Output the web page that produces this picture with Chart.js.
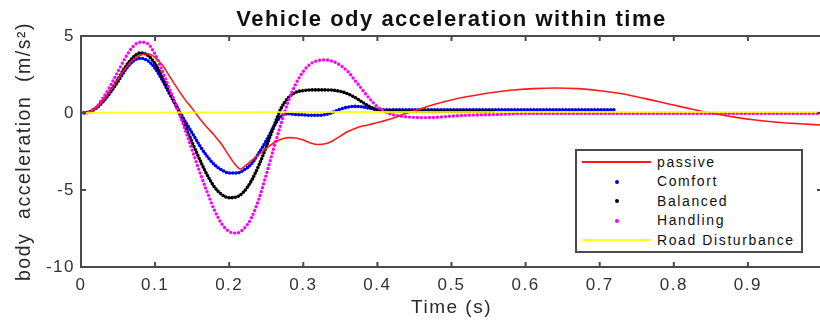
<!DOCTYPE html>
<html>
<head>
<meta charset="utf-8">
<script src="https://cdn.jsdelivr.net/npm/chart.js@4/dist/chart.umd.min.js"></script>
<style>
html, body { margin: 0; padding: 0; overflow: hidden; background: #fff; }
#wrap { position: relative; width: 840px; height: 326px; }
#legend {
	position: absolute; left: 575px; top: 149px; width: 228px; height: 104px;
	box-sizing: border-box; border: 2px solid #4a4a4a; background: #fff;
	padding-top: 1.5px;
	font-family: Arial, "Liberation Sans", sans-serif; font-size: 14px; letter-spacing: 1.6px; color: #111;
	white-space: nowrap;
}
#legend .row { position: relative; height: 19.5px; line-height: 19.5px; }
#legend .mark { position: absolute; top: 50%; }
#legend .txt { position: absolute; left: 80px; top: 0; }
</style>
</head>
<body>
<div id="wrap">
	<canvas id="chart" width="840" height="326"></canvas>
	<div id="legend"></div>
</div>
<script>
// time (s) and body acceleration (m/s^2)
var passiveT = [0, .01, .02, .03, .04, .05, .06, .07, .08, .09, .10, .11, .12, .13, .14, .15, .16, .17, .18, .19, .20, .21, .215,
	.22, .23, .24, .25, .26, .27, .28, .29, .30, .31, .32, .33, .34, .35, .36, .37, .38, .39, .40,
	.42, .44, .46, .48, .50, .52, .55, .58, .61, .64, .67, .70, .73, .76, .79, .82, .85, .88, .91, .94, .97, 1.0];
var passive = [0, .05, .3, .8, 1.45, 2.2, 2.9, 3.45, 3.75, 3.85, 3.6, 3.1, 2.35, 1.6, .9, .3, -.35, -.92, -1.45, -2.05, -2.8, -3.45, -3.64,
	-3.5, -3.1, -2.7, -2.3, -1.95, -1.7, -1.6, -1.62, -1.75, -1.95, -2.05, -2.0, -1.8, -1.5, -1.2, -1.0, -.85, -.75, -.62,
	-.35, 0, .3, .6, .85, 1.05, 1.3, 1.48, 1.58, 1.62, 1.58, 1.45, 1.25, .95, .62, .3, 0, -.25, -.45, -.6, -.7, -.78];

var comfortT = [0, .01, .02, .03, .04, .05, .06, .07, .08, .09, .10, .11, .12, .13, .14, .15, .16, .17, .18, .19, .20,
	.21, .22, .23, .24, .25, .26, .27, .28, .29, .30, .31, .32, .33, .34, .35, .36, .37, .38, .39, .40, .41,
	.44, .50, .60, .72];
var comfort = [0, .05, .3, .75, 1.35, 2.05, 2.8, 3.35, 3.55, 3.4, 2.9, 2.1, 1.2, .35, -.5, -1.3, -2.1, -2.8, -3.35, -3.7, -3.9,
	-3.9, -3.7, -3.3, -2.6, -1.8, -.9, -.2, -.05, -.1, -.12, -.15, -.15, -.1, .05, .25, .38, .43, .4, .3, .22, .2,
	.2, .2, .2, .2];

var balancedT = [0, .01, .02, .03, .04, .05, .06, .07, .08, .09, .10, .11, .12, .13, .14, .15, .16, .17, .18, .19, .20,
	.21, .22, .23, .24, .25, .26, .27, .28, .29, .30, .31, .32, .33, .34, .35, .36, .37, .38, .39, .40, .41,
	.45, .50, .56];
var balanced = [0, .05, .3, .8, 1.45, 2.2, 3.0, 3.6, 3.9, 3.75, 3.2, 2.3, 1.3, .3, -.8, -1.9, -3.0, -4.0, -4.8, -5.3, -5.5,
	-5.45, -5.1, -4.4, -3.4, -2.2, -.9, .3, 1.0, 1.35, 1.45, 1.5, 1.5, 1.5, 1.48, 1.4, 1.25, 1.0, .7, .4, .2, .12,
	.1, .1, .1];

var handlingT = [0, .01, .02, .03, .04, .05, .06, .07, .08, .09, .10, .11, .12, .13, .14, .15, .16, .17, .18, .19, .20,
	.21, .22, .23, .24, .25, .26, .27, .28, .29, .30, .31, .32, .33, .34, .35, .36, .37, .38, .39, .40, .41,
	.42, .44, .46, .48, .50, .52, .56, .60, .70, .80, .90, 1.0];
var handling = [0, .05, .35, 1.0, 1.8, 2.7, 3.6, 4.3, 4.6, 4.5, 3.8, 2.7, 1.5, .3, -1.0, -2.4, -3.8, -5.1, -6.3, -7.2, -7.7,
	-7.8, -7.5, -6.8, -5.6, -4.0, -2.3, -.7, .8, 1.9, 2.7, 3.2, 3.4, 3.45, 3.35, 3.1, 2.7, 2.1, 1.5, .9, .4, .1,
	-.1, -.25, -.3, -.28, -.2, -.15, -.1, -.03, -.03, -.03, -.03, -.03];

var roadT = [0, .05, .1, .15, .2, .25, .3, .35, .4, .5, .6, .7, .8, .9, 1.0];
var road = [0, .01, .02, .03, .04, .05, .06, .07, .07, .07, .07, .07, .07, .07, .07];

var xTicksMax = 1;

function pts(t, v) {
	return t.map(function(x, i) { return {x: x, y: v[i]}; });
}

function dotted(label, color, t, v, w, gap, order) {
	return {
		label: label, data: pts(t, v), order: order, kind: 'dot',
		borderColor: color, backgroundColor: color,
		borderWidth: w, borderDash: [0, gap], borderCapStyle: 'round',
		pointRadius: 0, cubicInterpolationMode: 'monotone'
	};
}

var datasets = [
	{label: 'passive', data: pts(passiveT, passive), order: 1, kind: 'line',
		borderColor: '#ff1a1a', borderWidth: 1.6, pointRadius: 0, cubicInterpolationMode: 'monotone'},
	dotted('Comfort', '#0000ff', comfortT, comfort, 3.6, 3.2, 4),
	dotted('Balanced', '#000000', balancedT, balanced, 3.6, 3.2, 3),
	dotted('Handling', '#ff00ff', handlingT, handling, 3.4, 4, 2),
	{label: 'Road Disturbance', data: pts(roadT, road), order: 0, kind: 'line',
		borderColor: 'rgba(255,255,0,0.85)', borderWidth: 2, pointRadius: 0}
];

// box round the plot, with the tick marks pointing inward
var frame = {
	id: 'frame',
	beforeDraw: function(chart) {
		chart.ctx.letterSpacing = '1.5px';
	},
	afterDatasetsDraw: function(chart) {
		var ctx = chart.ctx, a = chart.chartArea, x = chart.scales.x, y = chart.scales.y;
		ctx.save();
		ctx.strokeStyle = '#4a4a4a';
		ctx.lineWidth = 2;
		ctx.strokeRect(a.left, a.top, a.right - a.left, a.bottom - a.top);
		ctx.beginPath();
		x.ticks.forEach(function(t) {
			var px = x.getPixelForValue(t.value);
			ctx.moveTo(px, a.bottom); ctx.lineTo(px, a.bottom - 5);
			ctx.moveTo(px, a.top); ctx.lineTo(px, a.top + 5);
		});
		y.ticks.forEach(function(t) {
			var py = y.getPixelForValue(t.value);
			ctx.moveTo(a.left, py); ctx.lineTo(a.left + 5, py);
			ctx.moveTo(a.right, py); ctx.lineTo(a.right - 5, py);
		});
		ctx.stroke();
		ctx.restore();
	}
};

Chart.defaults.font.family = 'Arial, "Liberation Sans", sans-serif';
Chart.defaults.color = '#2a2a2a';

var ctx = document.getElementById('chart').getContext('2d');
window.chart = new Chart(ctx, {
	type: 'line',
	data: {datasets: datasets},
	plugins: [frame],
	options: {
		responsive: false,
		animation: false,
		layout: {padding: {left: 0, top: 0, right: 18, bottom: 0}},
		plugins: {legend: {display: false}, tooltip: {enabled: false}},
		scales: {
			x: {
				type: 'linear', position: 'bottom', min: 0, max: 1,
				ticks: {stepSize: 0.1, padding: 8, font: {size: 17}, color: '#333',
					callback: function(v) { return v >= xTicksMax ? '' : String(Math.round(v * 10) / 10); }},
				grid: {display: false, drawTicks: false}, border: {display: false},
				title: {display: true, text: 'Time (s)', font: {size: 19}, padding: {top: 0, bottom: 7}},
				afterFit: function(s) { s.height = 59; }
			},
			x2: {
				type: 'linear', position: 'top', min: 0, max: 1,
				ticks: {display: false}, grid: {display: false, drawTicks: false}, border: {display: false},
				title: {display: true, text: 'Vehicle ody acceleration within time',
					font: {size: 22, weight: 'bold'}, color: '#111', padding: {top: 7, bottom: 0}},
				afterFit: function(s) { s.height = 36; }
			},
			y: {
				type: 'linear', min: -10, max: 5,
				ticks: {stepSize: 5, padding: 6, font: {size: 17}, color: '#333'},
				grid: {display: false, drawTicks: false}, border: {display: false},
				title: {display: true, text: 'body  acceleration  (m/s²)', font: {size: 19.5}, padding: {top: 13, bottom: 0}},
				afterFit: function(s) { s.width = 81; }
			}
		}
	}
});

// legend box inside the plot
var legend = document.getElementById('legend');
datasets.forEach(function(d) {
	var row = document.createElement('div');
	row.className = 'row';
	var mark = document.createElement('span');
	mark.className = 'mark';
	if (d.kind === 'line') {
		mark.style.cssText = 'left:5px;width:69px;height:2px;margin-top:-1px;background:' + d.borderColor;
	} else {
		mark.style.cssText = 'left:38px;width:4px;height:4px;margin-top:-2px;border-radius:2px;background:' + d.borderColor;
	}
	var txt = document.createElement('span');
	txt.className = 'txt';
	txt.textContent = d.label;
	row.appendChild(mark);
	row.appendChild(txt);
	legend.appendChild(row);
});
</script>
</body>
</html>
